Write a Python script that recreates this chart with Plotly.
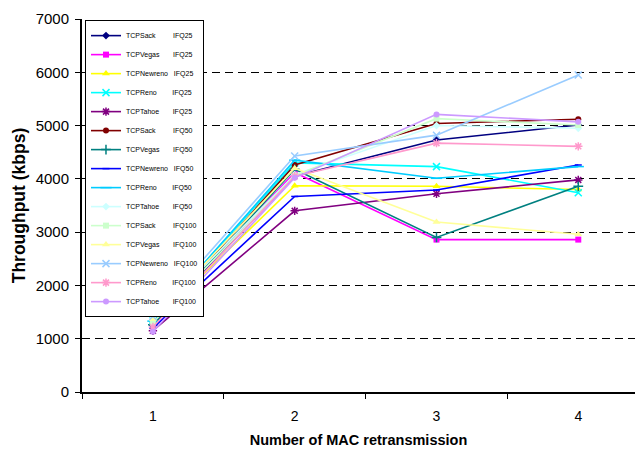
import plotly.graph_objects as go

categories = ["1", "2", "3", "4"]

protocols = ["TCPSack", "TCPVegas", "TCPNewreno", "TCPReno", "TCPTahoe"]
queues = ["IFQ25", "IFQ50", "IFQ100"]

# Throughput (kbps) per series, in legend order
sack_25 = [1250, 4050, 4730, 5010]
vegas_25 = [1300, 4120, 2860, 2860]
newreno_25 = [1300, 3870, 3860, 3800]
reno_25 = [1350, 4300, 4230, 3740]
tahoe_25 = [1150, 3400, 3720, 3980]
sack_50 = [1280, 4260, 5040, 5120]
vegas_50 = [1260, 4180, 2900, 3860]
newreno_50 = [1200, 3670, 3790, 4260]
reno_50 = [1330, 4350, 4010, 4230]
tahoe_50 = [1380, 4080, 5000, 4950]
sack_100 = [1300, 4060, 5130, 5010]
vegas_100 = [1370, 4200, 3190, 2960]
newreno_100 = [1420, 4430, 4820, 5950]
reno_100 = [1220, 4050, 4670, 4610]
tahoe_100 = [1130, 4020, 5210, 5070]

series = [
    ("TCPSack", "IFQ25", sack_25, "#000080", "diamond", 6),
    ("TCPVegas", "IFQ25", vegas_25, "#FF00FF", "square", 6),
    ("TCPNewreno", "IFQ25", newreno_25, "#FFFF00", "triangle-up", 7),
    ("TCPReno", "IFQ25", reno_25, "#00FFFF", "x-thin-open", 7),
    ("TCPTahoe", "IFQ25", tahoe_25, "#800080", "asterisk-open", 7),
    ("TCPSack", "IFQ50", sack_50, "#800000", "circle", 6),
    ("TCPVegas", "IFQ50", vegas_50, "#008080", "cross-thin-open", 7),
    ("TCPNewreno", "IFQ50", newreno_50, "#0000FF", "line-ew-open", 5),
    ("TCPReno", "IFQ50", reno_50, "#00CCFF", "line-ew-open", 8),
    ("TCPTahoe", "IFQ50", tahoe_50, "#CCFFFF", "diamond", 6),
    ("TCPSack", "IFQ100", sack_100, "#CCFFCC", "square", 6),
    ("TCPVegas", "IFQ100", vegas_100, "#FFFF99", "triangle-up", 7),
    ("TCPNewreno", "IFQ100", newreno_100, "#99CCFF", "x-thin-open", 7),
    ("TCPReno", "IFQ100", reno_100, "#FF99CC", "asterisk-open", 7),
    ("TCPTahoe", "IFQ100", tahoe_100, "#CC99FF", "circle", 6),
]

# approximate Arial advance widths (1/1000 em) to align the IFQ column
W = {"T": 611, "C": 722, "P": 667, "S": 667, "a": 556, "c": 500, "k": 500,
     "V": 667, "e": 556, "g": 556, "s": 500, "N": 722, "w": 722, "r": 333,
     "n": 556, "o": 556, "R": 722, "h": 556}


def label(proto, q):
    w = sum(W.get(ch, 556) for ch in proto)
    pad = max(1, round((6714 - w) / 278))
    return proto + "\u00a0" * pad + q


FONT = "Liberation Sans, Arial, sans-serif"

fig = go.Figure()
for proto, q, vals, color, sym, size in series:
    open_sym = sym.endswith("-open")
    fig.add_trace(go.Scatter(
        x=categories, y=vals, mode="lines+markers", name=label(proto, q),
        line=dict(color=color, width=1.6),
        marker=dict(symbol=sym, size=size, color=color,
                    line=dict(color=color, width=1.5 if open_sym else 0)),
    ))

fig.update_layout(
    width=635, height=456,
    margin=dict(l=82, r=0, t=19, b=64),
    paper_bgcolor="white", plot_bgcolor="white",
    font=dict(family=FONT, color="black"),
    showlegend=True,
    legend=dict(
        x=0.0054, y=0.997, xanchor="left", yanchor="top",
        bgcolor="white", bordercolor="black", borderwidth=1,
        font=dict(size=7, family=FONT), itemwidth=30,
        tracegroupgap=0,
    ),
    xaxis=dict(
        type="category", categoryorder="array", categoryarray=categories,
        range=[-0.5, 3.4], showline=True, linecolor="black", linewidth=2,
        ticks="outside", tickson="boundaries", ticklen=5, tickcolor="black",
        showgrid=False, zeroline=False, tickfont=dict(size=14),
        ticklabelstandoff=10,
        title=dict(text="Number of MAC retransmission",
                   font=dict(size=14.5, weight="bold"), standoff=12),
    ),
    yaxis=dict(
        range=[0, 7000], dtick=1000, showline=True, linecolor="black",
        linewidth=2, ticks="outside", ticklen=5, tickcolor="black",
        showgrid=True, gridcolor="black", gridwidth=1, griddash="8px,5px",
        zeroline=False, tickfont=dict(size=15), ticklabelstandoff=3,
        title=dict(text="Throughput (kbps)",
                   font=dict(size=17.5, weight="bold"), standoff=6),
    ),
)

fig.write_html("out.html")
